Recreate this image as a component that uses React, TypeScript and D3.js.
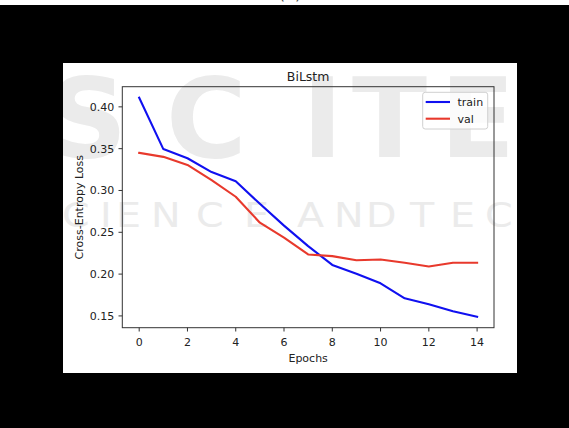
import React from "react";
import * as d3 from "d3";

const epochs = [0, 1, 2, 3, 4, 5, 6, 7, 8, 9, 10, 11, 12, 13, 14];
const trainLoss = [0.411, 0.3495, 0.3385, 0.322, 0.311, 0.284, 0.258, 0.2335, 0.211, 0.2005, 0.189, 0.171, 0.164, 0.1555, 0.149];
const valLoss = [0.345, 0.3402, 0.3305, 0.3125, 0.2925, 0.2615, 0.2435, 0.2235, 0.2215, 0.2165, 0.2175, 0.2135, 0.209, 0.2135, 0.2135];
const xTicks = [0, 2, 4, 6, 8, 10, 12, 14];
const yTicks = [0.15, 0.2, 0.25, 0.3, 0.35, 0.4];
const seriesNames = ["train", "val"];
const seriesColors = ["#1010f0", "#e8392c"];

const W = 569;
const H = 428;
const FONT = "DejaVu Sans, sans-serif";

export default function App() {
  const left = 122.3, right = 494, top = 86.7, bottom = 327.7;
  const all = trainLoss.concat(valLoss);
  const [mn, mx] = d3.extent(all) as [number, number];
  const yPad = (mx - mn) * 0.05;
  const xPad = (d3.max(epochs)! - d3.min(epochs)!) * 0.05;
  const x = d3.scaleLinear().domain([d3.min(epochs)! - xPad, d3.max(epochs)! + xPad]).range([left, right]);
  const y = d3.scaleLinear().domain([mn - yPad, mx + yPad]).range([bottom, top]);
  const line = d3
    .line<number>()
    .x((_, i) => x(epochs[i]))
    .y((d) => y(d));
  const series = [trainLoss, valLoss];
  const wmColor = "#ebebeb";
  const bigLetters = [
    { t: "S", x: 48 },
    { t: "C", x: 166 },
    { t: "I", x: 302 },
    { t: "T", x: 352 },
    { t: "E", x: 440 },
  ];
  const rowText = "CIENCEANDTEC";
  const rowX = [62, 100, 116, 151, 196, 244, 297, 334, 366, 410, 450, 485];
  const sx = 1.2;

  return (
    <svg
      width={W}
      height={H}
      style={{ position: "absolute", left: 0, top: 0, display: "block" }}
      fontFamily={FONT}
    >
      <defs>
        <clipPath id="whiteClip">
          <rect x={63} y={63} width={454} height={310} />
        </clipPath>
        <clipPath id="topClip">
          <rect x={0} y={0} width={W} height={5} />
        </clipPath>
      </defs>
      <rect x={0} y={0} width={W} height={H} fill="#000" />
      <rect x={0} y={0} width={W} height={5} fill="#fff" />
      <g clipPath="url(#topClip)">
        <text x={290} y={-1} fontSize={16} textAnchor="middle" fill="#444">(a)</text>
      </g>
      <rect x={63} y={63} width={454} height={310} fill="#fff" />
      {/* watermark */}
      <g clipPath="url(#whiteClip)" fill={wmColor}>
        {bigLetters.map((l) => (
          <text key={l.t + l.x} x={l.x} y={157} fontSize={110} fontWeight="bold" fontFamily={FONT}>
            {l.t}
          </text>
        ))}
        <g transform={`scale(${sx},1)`}>
          <text y={227} fontSize={33} x={rowX.map((v) => v / sx).join(" ")} fontFamily={FONT}>
            {rowText}
          </text>
        </g>
      </g>
      {/* title */}
      <text x={(left + right) / 2} y={80.5} fontSize={12.5} textAnchor="middle" fill="#222">
        BiLstm
      </text>
      {/* lines */}
      <g clipPath="url(#whiteClip)">
        {series.map((s, i) => (
          <path
            key={seriesNames[i]}
            d={line(s) || ""}
            fill="none"
            stroke={seriesColors[i]}
            strokeWidth={2.1}
            strokeLinejoin="round"
            strokeLinecap="square"
          />
        ))}
      </g>
      {/* spines */}
      <rect x={left} y={top} width={right - left} height={bottom - top} fill="none" stroke="#333" strokeWidth={1} />
      {/* y ticks */}
      {yTicks.map((t) => (
        <g key={"y" + t}>
          <line x1={left - 3.8} x2={left} y1={y(t)} y2={y(t)} stroke="#333" strokeWidth={1} />
          <text x={left - 8} y={y(t) + 4} fontSize={11} textAnchor="end" fill="#222">
            {t.toFixed(2)}
          </text>
        </g>
      ))}
      {/* x ticks */}
      {xTicks.map((t) => (
        <g key={"x" + t}>
          <line x1={x(t)} x2={x(t)} y1={bottom} y2={bottom + 3.8} stroke="#333" strokeWidth={1} />
          <text x={x(t)} y={346} fontSize={11} textAnchor="middle" fill="#222">
            {t}
          </text>
        </g>
      ))}
      <text x={(left + right) / 2} y={361.5} fontSize={11} textAnchor="middle" fill="#222">
        Epochs
      </text>
      <text
        transform={`translate(83, ${(top + bottom) / 2}) rotate(-90)`}
        fontSize={11}
        textAnchor="middle"
        fill="#222"
      >
        Cross-Entropy Loss
      </text>
      {/* legend */}
      <rect x={422.7} y={92.3} width={65} height={36.7} rx={2.5} fill="#fff" fillOpacity={0.8} stroke="#d0d0d0" strokeWidth={1} />
      {seriesNames.map((n, i) => (
        <g key={"lg" + n}>
          <line x1={425.7} x2={450} y1={102 + i * 16.7} y2={102 + i * 16.7} stroke={seriesColors[i]} strokeWidth={2.1} />
          <text x={457.5} y={102 + i * 16.7 + 4} fontSize={11} fill="#222">
            {n}
          </text>
        </g>
      ))}
    </svg>
  );
}
